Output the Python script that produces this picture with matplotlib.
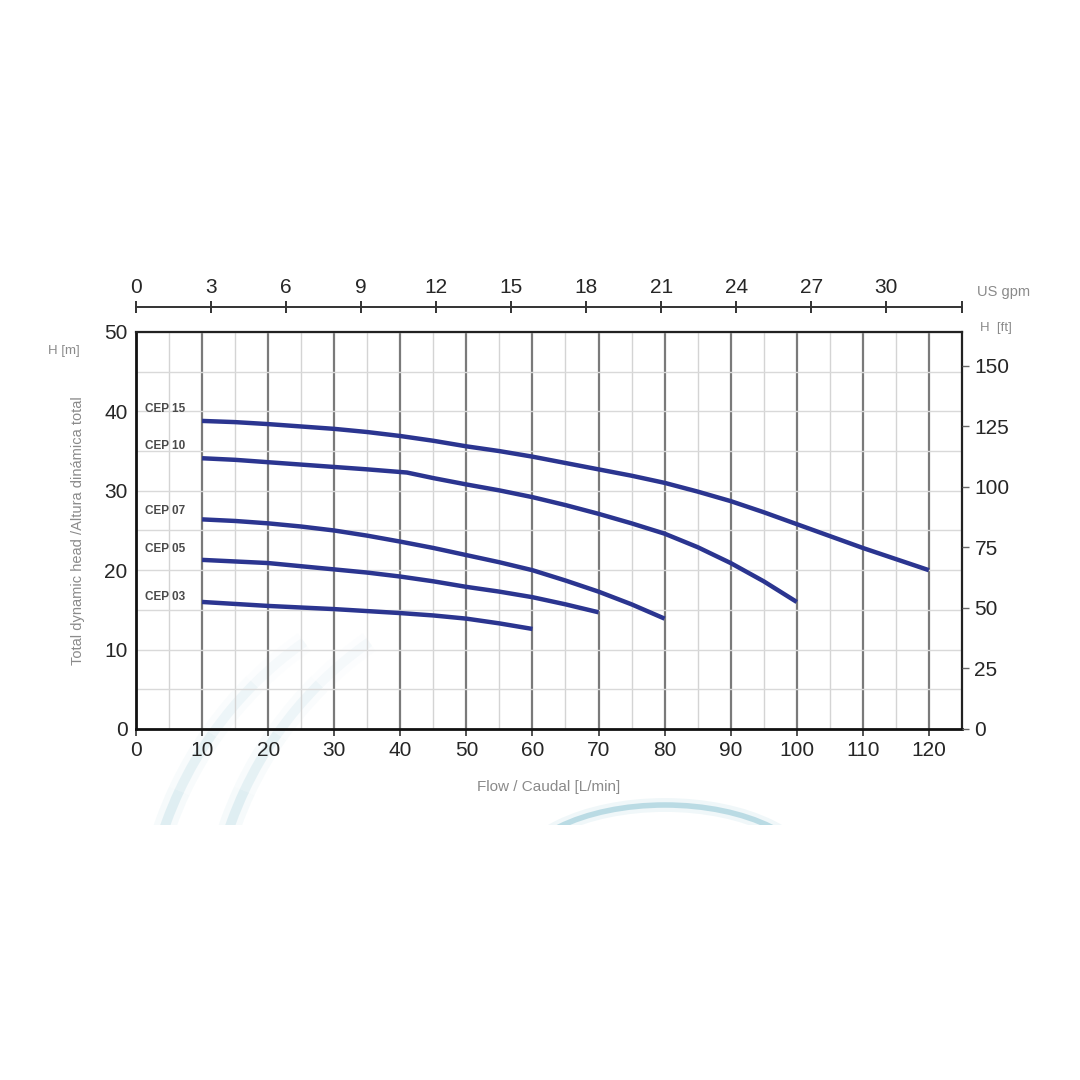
import matplotlib.pyplot as plt
from matplotlib.patches import Arc, Ellipse, Rectangle
from matplotlib.ticker import MultipleLocator

plt.rcParams['font.family'] = ['Liberation Sans', 'DejaVu Sans']

# pump curves: flow [L/min] vs head [m]
flow_15 = [10, 15, 20, 25, 30, 35, 40, 45, 50, 55, 60, 65, 70, 75, 80, 85, 90, 95, 100, 105, 110, 115, 120]
head_15 = [38.8, 38.65, 38.4, 38.1, 37.8, 37.4, 36.9, 36.3, 35.6, 35.0, 34.3, 33.5, 32.7, 31.9,
           31.0, 29.9, 28.7, 27.3, 25.8, 24.3, 22.8, 21.4, 20.0]
flow_10 = [10, 15, 20, 25, 30, 35, 41, 45, 50, 55, 60, 65, 70, 75, 80, 85, 90, 95, 100]
head_10 = [34.1, 33.9, 33.6, 33.3, 33.0, 32.7, 32.3, 31.6, 30.8, 30.05, 29.2, 28.2, 27.1, 25.9,
           24.6, 22.9, 20.9, 18.6, 16.0]
flow_07 = [10, 15, 20, 25, 30, 35, 40, 45, 50, 55, 60, 65, 70, 75, 80]
head_07 = [26.4, 26.2, 25.9, 25.5, 25.0, 24.35, 23.6, 22.8, 21.9, 21.0, 20.0, 18.7, 17.3, 15.7, 13.9]
flow_05 = [10, 15, 20, 25, 30, 35, 40, 45, 50, 55, 60, 65, 70]
head_05 = [21.3, 21.1, 20.9, 20.5, 20.1, 19.7, 19.2, 18.6, 17.9, 17.3, 16.6, 15.7, 14.7]
flow_03 = [10, 15, 20, 25, 30, 35, 40, 45, 50, 55, 60]
head_03 = [16.0, 15.75, 15.5, 15.3, 15.1, 14.85, 14.6, 14.3, 13.9, 13.3, 12.6]

models = ['CEP 15', 'CEP 10', 'CEP 07', 'CEP 05', 'CEP 03']
flows = [flow_15, flow_10, flow_07, flow_05, flow_03]
heads = [head_15, head_10, head_07, head_05, head_03]
label_heads = [40.3, 35.6, 27.5, 22.7, 16.6]

x_ticks = list(range(0, 121, 10))
gpm_ticks = list(range(0, 31, 3))
ft_ticks = list(range(0, 151, 25))

M_TO_FT = 3.28084
LPM_PER_GPM = 3.78541
X_MAX = 125
Y_MAX = 50

curve_color = '#2b3590'
text_dark = '#262626'
text_light = '#8a8a8a'
swirl = '#86c0d0'

fig = plt.figure(figsize=(10.8, 10.8), dpi=100)

# faint decorative swirls behind the chart (pixel coordinates)
bg = fig.add_axes([0, 0, 1, 1], zorder=-1)
bg.set_xlim(0, 1080)
bg.set_ylim(1080, 0)
bg.axis('off')
clip = Rectangle((0, 255), 1080, 570, transform=bg.transData, visible=False)
bg.add_patch(clip)
shapes = []
# left streaks fade out toward their upper end
for cx in [520, 585]:
    for k, a in enumerate([0.2, 0.16, 0.11, 0.06]):
        t1 = 195 + k * 10
        for lw, f in [(16, 0.35), (7, 1.0)]:
            shapes.append(Arc((cx, 950), 752, 752, theta1=t1, theta2=t1 + 10,
                              edgecolor=swirl, linewidth=lw, alpha=a * f))
for lw, a in [(10, 0.12), (4, 0.5)]:
    shapes.append(Ellipse((665, 880), 300, 150, fill=False, edgecolor=swirl,
                          linewidth=lw, alpha=a))
for p in shapes:
    bg.add_patch(p)
    p.set_clip_path(clip)

ax = fig.add_axes([0.1259, 0.325, 0.7648, 0.3676])
ax.patch.set_alpha(0)

ax.set_xlim(0, X_MAX)
ax.set_ylim(0, Y_MAX)
ax.set_xticks(x_ticks)
ax.set_yticks(range(0, 51, 10))
ax.xaxis.set_minor_locator(MultipleLocator(5))
ax.yaxis.set_minor_locator(MultipleLocator(5))

ax.grid(which='major', axis='x', color='#7a7a7a', linewidth=1.6)
ax.grid(which='minor', axis='x', color='#d4d4d4', linewidth=1.0)
ax.grid(which='both', axis='y', color='#d9d9d9', linewidth=1.0)
ax.set_axisbelow(True)

for s in ['left', 'bottom']:
    ax.spines[s].set_linewidth(2.0)
    ax.spines[s].set_color('#111111')
for s in ['top', 'right']:
    ax.spines[s].set_linewidth(1.6)
    ax.spines[s].set_color('#222222')

ax.tick_params(axis='x', which='major', length=5, width=1.2, color='#333333',
               labelsize=15, labelcolor=text_dark, pad=4)
ax.tick_params(axis='y', which='major', length=0, labelsize=15,
               labelcolor=text_dark, pad=6)
ax.tick_params(which='minor', length=0)

for name, fx, hy, ly in zip(models, flows, heads, label_heads):
    ax.plot(fx, hy, color=curve_color, linewidth=3.2, solid_capstyle='butt',
            solid_joinstyle='round')
    ax.text(1.3, ly, name, fontsize=8.5, fontweight='bold', color='#4a4a4a',
            ha='left', va='center')

ax.set_xlabel('Flow / Caudal [L/min]', fontsize=11, color=text_light, labelpad=14)
ax.set_ylabel('Total dynamic head /Altura dinámica total', fontsize=10.5,
              color=text_light, labelpad=14)

# right axis in feet
ax_ft = ax.twinx()
ax_ft.set_ylim(0, Y_MAX * M_TO_FT)
ax_ft.set_yticks(ft_ticks)
ax_ft.tick_params(axis='y', length=5, width=1.0, color='#666666', labelsize=15,
                  labelcolor=text_dark, pad=4)
for s in ax_ft.spines.values():
    s.set_visible(False)

# top axis in US gpm
ax_gpm = fig.add_axes([0.1259, 0.7157, 0.7648, 0.0001])
ax_gpm.set_xlim(0, X_MAX / LPM_PER_GPM)
ax_gpm.set_xticks(gpm_ticks)
ax_gpm.set_xticks([X_MAX / LPM_PER_GPM], minor=True)
ax_gpm.set_yticks([])
ax_gpm.patch.set_visible(False)
for s in ['top', 'left', 'right']:
    ax_gpm.spines[s].set_visible(False)
ax_gpm.spines['bottom'].set_linewidth(1.4)
ax_gpm.spines['bottom'].set_color('#333333')
ax_gpm.tick_params(axis='x', which='both', direction='inout', length=9, width=1.4,
                   color='#333333', bottom=True, labelbottom=False, top=False,
                   labeltop=True, labelsize=15, labelcolor=text_dark, pad=3)

fig.text(0.044, 0.675, 'H [m]', fontsize=9.5, color=text_light, ha='left', va='center')
fig.text(0.907, 0.696, 'H  [ft]', fontsize=9.5, color=text_light, ha='left', va='center')
fig.text(0.905, 0.730, 'US gpm', fontsize=10.5, color=text_light, ha='left', va='center')

fig.savefig('out.png', dpi=100, facecolor='white')
